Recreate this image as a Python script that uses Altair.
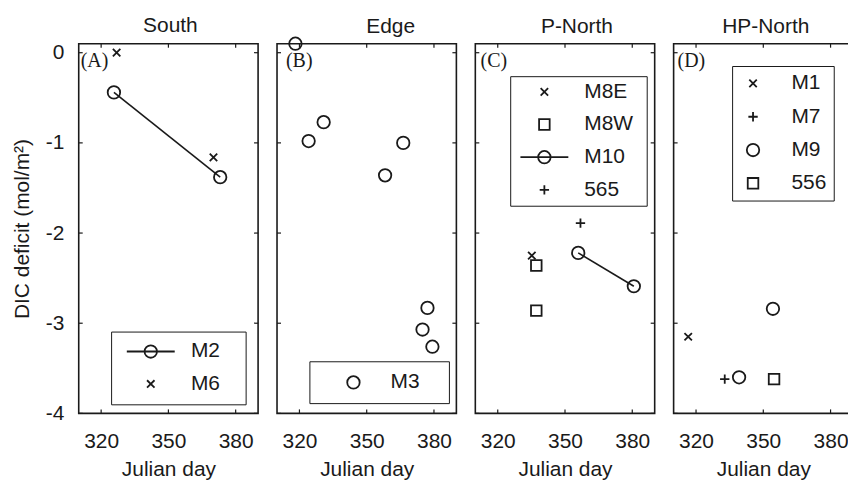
import altair as alt
import pandas as pd

# ---------------- data ----------------
x_ticks = [320, 350, 380]
y_ticks = [0, -1, -2, -3, -4]

# South
south_M2_day = [325.7, 373.1]
south_M2_dic = [-0.44, -1.38]
south_M6_day = [326.9, 370.1]
south_M6_dic = [0.0, -1.16]

# Edge
edge_M3_day = [318.2, 324.1, 330.8, 358.2, 366.3, 377.1, 374.9, 379.3]
edge_M3_dic = [0.1, -0.98, -0.77, -1.36, -1.0, -2.83, -3.07, -3.26]

# P-North
pn_M8E_day = [335.2]
pn_M8E_dic = [-2.25]
pn_M8W_day = [337.2, 337.2]
pn_M8W_dic = [-2.36, -2.86]
pn_M10_day = [355.9, 380.7]
pn_M10_dic = [-2.22, -2.59]
pn_565_day = [356.9]
pn_565_dic = [-1.89]

# HP-North
hp_M1_day = [316.5]
hp_M1_dic = [-3.15]
hp_M7_day = [332.8]
hp_M7_dic = [-3.62]
hp_M9_day = [339.2, 354.3]
hp_M9_dic = [-3.60, -2.84]
hp_556_day = [354.8]
hp_556_dic = [-3.62]

panel_titles = ["South", "Edge", "P-North", "HP-North"]
panel_tags = ["(A)", "(B)", "(C)", "(D)"]

# ---------------- styling ----------------
INK = "#1a1a1a"
SANS = "Liberation Sans"
SERIF = "Liberation Serif"
FS = 21
W, H = 180, 371
SYM = 156

X_PATH = "M-0.6,-0.6L0.6,0.6M0.6,-0.6L-0.6,0.6"
PLUS_PATH = "M-0.75,0L0.75,0M0,-0.75L0,0.75"
SQUARE_PATH = "M-0.85,-0.85L0.85,-0.85L0.85,0.85L-0.85,0.85Z"
CIRCLE = "circle"
CIRCLE_PATH = "M-1,0A1,1,0,1,1,1,0A1,1,0,1,1,-1,0"
LINE_CIRCLE = "M-3.85,0L3.85,0" + CIRCLE_PATH

XS = alt.Scale(domain=[310, 390], nice=False, zero=False)
YS = alt.Scale(domain=[-4, 0.1], nice=False, zero=False)

x_axis = alt.Axis(values=x_ticks, ticks=False, domain=False, grid=False,
                  labelFontSize=FS, labelPadding=17, labelFont=SANS,
                  title="Julian day", titleFontSize=FS, titleFont=SANS,
                  titleFontWeight="normal", titlePadding=7)
y_axis_main = alt.Axis(values=y_ticks, ticks=False, domain=False, grid=False,
                       labelFontSize=FS, labelPadding=15, labelFont=SANS,
                       labelExpr="'' + datum.value",
                       title="DIC deficit (mol/m²)", titleFontSize=FS,
                       titleFont=SANS, titleFontWeight="normal", titlePadding=13)


def widen(path, k):
    # an extra move-to (nothing drawn) so the legend frame reaches further right
    return path if k <= 0 else path + "M%.2f,0" % k


def panel(idx, series, leg):
    names = [s[0] for s in series]
    rows = []
    for name, days, dics, _, _, _ in series:
        for d, v in zip(days, dics):
            rows.append({"day": d, "dic": v, "station": name})
    df = pd.DataFrame(rows)
    y_axis = y_axis_main if idx == 0 else None

    def X(field):
        return alt.X(field, scale=XS, axis=x_axis)

    def Y(field):
        return alt.Y(field, scale=YS, axis=y_axis)

    layers = []
    connected = [s[0] for s in series if s[5]]
    if connected:
        layers.append(
            alt.Chart(df).transform_filter(
                alt.FieldOneOfPredicate(field="station", oneOf=connected)
            ).mark_line(color=INK, strokeWidth=1.6).encode(
                x=X("day:Q"), y=Y("dic:Q"), detail="station:N")
        )
    layers.append(
        alt.Chart(df).mark_point(filled=False, opacity=1, color=INK,
                                 strokeWidth=1.8, size=SYM).encode(
            x=X("day:Q"), y=Y("dic:Q"),
            shape=alt.Shape("station:N",
                            scale=alt.Scale(domain=names, range=[s[3] for s in series]),
                            legend=None))
    )
    # legend (library legend, fed from an empty copy of the data)
    leg_shapes = [widen(s[4], leg["k"]) for s in series]
    layers.append(
        alt.Chart(df).transform_filter("false").mark_point(
            filled=False, opacity=1, color=INK, strokeWidth=1.8, size=SYM).encode(
            x=X("day:Q"), y=Y("dic:Q"),
            shape=alt.Shape("station:N",
                            scale=alt.Scale(domain=names, range=leg_shapes),
                            legend=alt.Legend(
                                title=None, orient="none",
                                legendX=leg["x"], legendY=leg["y"],
                                strokeColor=INK, fillColor="white",
                                padding=leg["pad"], rowPadding=leg["row"],
                                symbolOffset=leg["soff"], labelOffset=leg["loff"],
                                symbolSize=SYM, symbolStrokeWidth=1.8,
                                symbolStrokeColor=INK, symbolFillColor="transparent",
                                symbolOpacity=1,
                                labelFont=SANS, labelFontSize=FS, labelColor=INK)))
    )
    # inward tick marks on all four sides
    xt = pd.DataFrame({"v": x_ticks})
    yt = pd.DataFrame({"v": y_ticks})
    tick = dict(color=INK, strokeWidth=1.2)
    layers += [
        alt.Chart(xt).mark_rule(**tick).encode(x=X("v:Q"), y=alt.value(H), y2=alt.value(H - 4)),
        alt.Chart(xt).mark_rule(**tick).encode(x=X("v:Q"), y=alt.value(0), y2=alt.value(4)),
        alt.Chart(yt).mark_rule(**tick).encode(y=Y("v:Q"), x=alt.value(0), x2=alt.value(4)),
        alt.Chart(yt).mark_rule(**tick).encode(y=Y("v:Q"), x=alt.value(W), x2=alt.value(W - 4)),
    ]
    # panel tag
    layers.append(
        alt.Chart(pd.DataFrame({"t": [panel_tags[idx]]})).mark_text(
            font=SERIF, fontSize=20, color=INK, align="left", baseline="alphabetic").encode(
            x=alt.value(leg["tagx"]), y=alt.value(23), text="t:N")
    )
    return alt.layer(*layers).resolve_scale(shape="independent").properties(
        width=W, height=H,
        title=alt.TitleParams(panel_titles[idx], font=SANS, fontSize=FS,
                              fontWeight="normal", color=INK, offset=leg["toff"],
                              dx=leg["tdx"], frame="group", baseline="alphabetic"))


pA = panel(0, [
    ("M2", south_M2_day, south_M2_dic, CIRCLE, LINE_CIRCLE, True),
    ("M6", south_M6_day, south_M6_dic, X_PATH, X_PATH, False),
], dict(x=32.5, y=288.9, pad=9.5, row=10.6, soff=19.8, loff=29.8, k=13.0, tagx=2,
        toff=-11, tdx=2))

pB = panel(1, [
    ("M3", edge_M3_day, edge_M3_dic, CIRCLE, CIRCLE_PATH, False),
], dict(x=32.5, y=318.7, pad=10.7, row=10, soff=23, loff=26.8, k=13.0, tagx=9,
        toff=-20, tdx=24))

pC = panel(2, [
    ("M8E", pn_M8E_day, pn_M8E_dic, X_PATH, X_PATH, False),
    ("M8W", pn_M8W_day, pn_M8W_dic, SQUARE_PATH, SQUARE_PATH, False),
    ("M10", pn_M10_day, pn_M10_dic, CIRCLE, LINE_CIRCLE, True),
    ("565", pn_565_day, pn_565_dic, PLUS_PATH, PLUS_PATH, False),
], dict(x=35, y=32.6, pad=5.2, row=10.8, soff=18.6, loff=29.5, k=14.9, tagx=5.3,
        toff=-11, tdx=12))

pD = panel(3, [
    ("M1", hp_M1_day, hp_M1_dic, X_PATH, X_PATH, False),
    ("M7", hp_M7_day, hp_M7_dic, PLUS_PATH, PLUS_PATH, False),
    ("M9", hp_M9_day, hp_M9_dic, CIRCLE, CIRCLE_PATH, False),
    ("556", hp_556_day, hp_556_dic, SQUARE_PATH, SQUARE_PATH, False),
], dict(x=58.7, y=22.4, pad=7, row=11.4, soff=3.5, loff=28, k=0, tagx=4,
        toff=-11, tdx=2.5))

# the right-hand panel runs past the picture's edge, as in the reference
chart = alt.hconcat(pA, pB, pC, pD, spacing=19, bounds="flush").properties(
    padding={"left": 10, "top": 13, "right": -7, "bottom": 0},
    background="white",
).configure_view(stroke=INK, strokeWidth=1.6).configure_axis(
    labelColor=INK, titleColor=INK)

chart.save("out.html", embed_options={"renderer": "svg", "actions": False})
